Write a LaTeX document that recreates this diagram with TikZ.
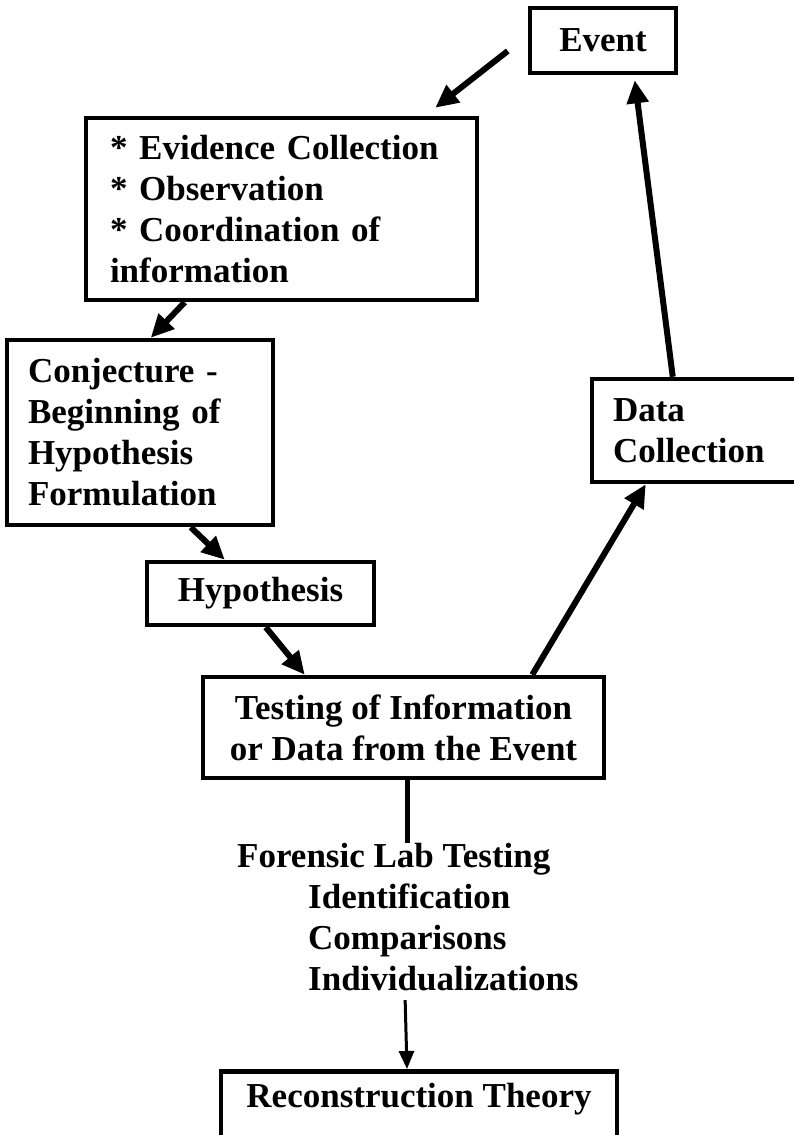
\documentclass[tikz,border=0pt]{standalone}
\usepackage{fontspec}
\setmainfont{Liberation Serif}
\usetikzlibrary{arrows.meta}

\tikzset{
	box/.style={draw, line width=4.5pt, inner sep=0pt, font=\bfseries\fontsize{35}{41}\selectfont},
	txt/.style={inner sep=0pt, font=\bfseries\fontsize{35}{41}\selectfont},
	arr/.style={line width=6pt, -{Triangle[length=23pt,width=21pt]}},
	link/.style={line width=5pt},
	thinarr/.style={line width=3pt, -{Triangle[length=18pt,width=15pt]}},
}

\begin{document}
\begin{tikzpicture}[x=1pt, y=-1pt]
		  \useasboundingbox (0,0) rectangle (793,1135);
		  \node[box, minimum width=146pt, minimum height=65pt] (event) at (603,40.5) {Event} ; %
		  \node[box, text width=343pt, inner xsep=24pt, align=left, minimum height=182pt] (evid) at (281.5,209) {{*} Evidence Collection\\{*} Observation\\{*} Coordination of\\information} ; %
		  \node[box, text width=224pt, inner xsep=21pt, align=left, minimum height=185pt] (conj) at (140,432.5) {Conjecture -\\Beginning of\\Hypothesis\\Formulation} ; %
		  \node[box, minimum width=227pt, minimum height=63pt] (hyp) at (260.5,593.5) {Hypothesis} ; %
		  \node[box, minimum width=401pt, minimum height=101pt, align=center] (test) at (403.5,727.5) {Testing of Information\\or Data from the Event} ; %
		  \node[box, text width=166pt, inner xsep=21pt, align=left, minimum height=103pt] (data) at (696,430.5) {Data\\Collection} ; %
		  \node[txt, anchor=north west, align=left] (lab) at (237,843) {Forensic Lab Testing\\\hspace*{71pt}Identification\\\hspace*{71pt}Comparisons\\\hspace*{71pt}Individualizations} ; %
		  \node[box, minimum width=396pt, anchor=north, text height=36pt, text depth=32pt] (recon) at (419,1069) {Reconstruction Theory} ; %
		
		  \draw[arr] ([xshift=-20pt,yshift=-10.5pt]event.west) -- ([xshift=-44pt,yshift=8pt]evid.north east);
		  \draw[arr] ([xshift=101pt]evid.south west) -- ([xshift=146pt]conj.north west);
		  \draw[arr] ([xshift=186pt]conj.south west) -- ([xshift=80pt]hyp.north west);
		  \draw[arr] ([xshift=121pt]hyp.south west) -- ([xshift=104pt]test.north west);
		  \draw[arr] ([xshift=-74pt]test.north east) -- ([xshift=56pt]data.south west);
		  \draw[arr] ([xshift=83pt]data.north west) -- ([xshift=107pt,yshift=-5pt]event.south west);
		  \draw[link] (test.south -| lab.north) -- (lab.north);
		  \draw[thinarr, shorten <=9pt] ([xshift=-3pt]lab.south) -- ([xshift=-12pt]recon.north);
		\end{tikzpicture}
\end{document}
